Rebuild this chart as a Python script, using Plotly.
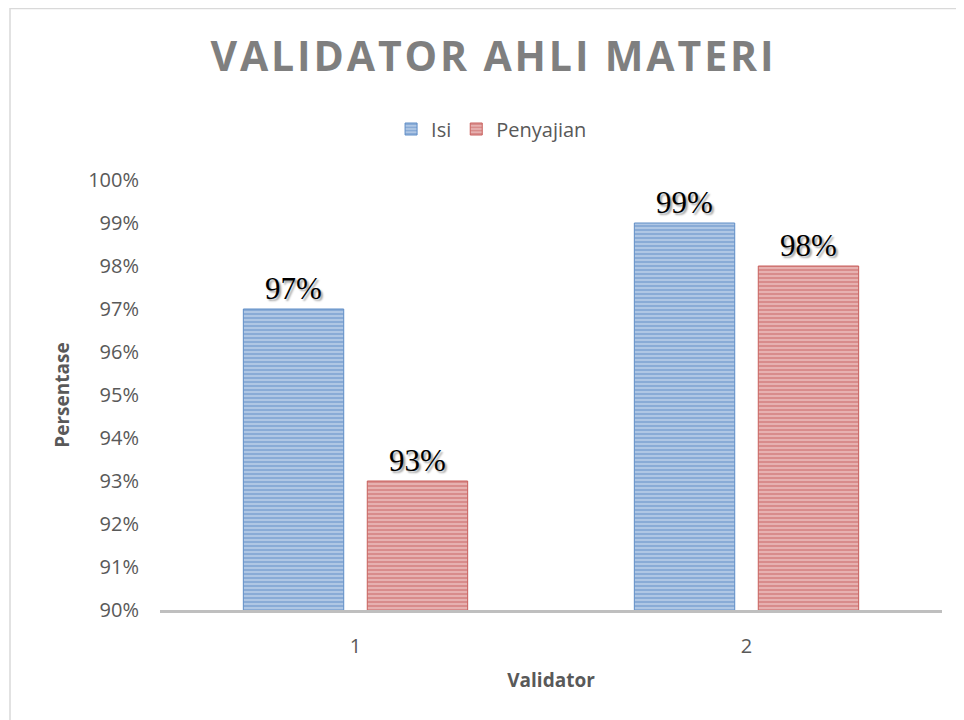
import plotly.graph_objects as go

chart_title = 'VALIDATOR AHLI MATERI'
validators = ['1', '2']
isi = [97, 99]
penyajian = [93, 98]
y_ticks = list(range(90, 101))
y_tick_labels = [f'{v}%' for v in y_ticks]

label_font = dict(family='Liberation Serif', size=31, color='black', shadow='2px 2px 2px #a0a0a0')

# letter spacing for the title: a small space between each character
spacer = '<span style="font-size:11px">&nbsp;</span>'
spaced_title = spacer.join(ch if ch != ' ' else '&nbsp;' for ch in chart_title)

fig = go.Figure()

fig.add_trace(go.Bar(
    name='Isi',
    x=validators,
    y=isi,
    text=[f'{v}%' for v in isi],
    textposition='outside',
    cliponaxis=False,
    textfont=label_font,
    marker=dict(
        color='#4f81bd',
        line=dict(color='#5f8dc6', width=1),
        pattern=dict(shape='-', size=4, solidity=0.7, bgcolor='#c8d8ee', fgcolor='#4a7ebe'),
    ),
))

fig.add_trace(go.Bar(
    name='Penyajian',
    x=validators,
    y=penyajian,
    text=[f'{v}%' for v in penyajian],
    textposition='outside',
    cliponaxis=False,
    textfont=label_font,
    marker=dict(
        color='#c0504d',
        line=dict(color='#c85f5c', width=1),
        pattern=dict(shape='-', size=4, solidity=0.7, bgcolor='#f0c9c8', fgcolor='#c0504d'),
    ),
))

# page body adds an 8px offset, so everything is shifted up/left by 8px
fig.update_layout(
    width=964,
    height=720,
    title=dict(
        text='<b>' + spaced_title + '</b>',
        x=0.502, xanchor='center',
        y=1 - 49 / 720, yanchor='middle',
        font=dict(family='Open Sans', size=41, color='#7f7f7f'),
    ),
    barmode='group',
    bargap=0.366,
    bargroupgap=0.19,
    plot_bgcolor='white',
    paper_bgcolor='white',
    margin=dict(l=152, r=30, t=172, b=118),
    font=dict(family='Open Sans', color='#595959'),
    legend=dict(
        orientation='h',
        x=0.424, xanchor='center',
        y=1.1186, yanchor='middle',
        font=dict(size=20, color='#595959'),
        itemwidth=30,
    ),
    xaxis=dict(
        title=dict(text='<b>Validator</b>', font=dict(size=19, color='#595959'), standoff=16),
        tickfont=dict(size=20, color='#595959'),
        ticklabelstandoff=16,
        showline=True, linecolor='#bfbfbf', linewidth=3,
        ticks='', showgrid=False,
    ),
    yaxis=dict(
        title=dict(text='<b>Persentase</b>', font=dict(size=19, color='#595959'), standoff=13),
        range=[90, 100],
        tickvals=y_ticks,
        ticktext=y_tick_labels,
        tickfont=dict(size=20, color='#595959'),
        ticklabelstandoff=20,
        showgrid=False, zeroline=False, showline=False, ticks='',
    ),
    shapes=[dict(
        type='rect', xref='paper', yref='paper',
        x0=-150 / 782, x1=1.2, y0=-0.4, y1=1.3988,
        line=dict(color='#d9d9d9', width=1.5), fillcolor='rgba(0,0,0,0)', layer='below',
    )],
)

fig.write_html('out.html')
